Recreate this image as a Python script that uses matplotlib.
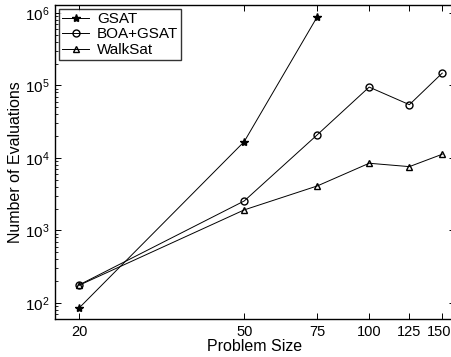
import matplotlib
matplotlib.use('Agg')
import matplotlib.pyplot as plt
import matplotlib.transforms as mtransforms
from matplotlib.ticker import LogLocator, NullLocator, FixedLocator, FixedFormatter

plt.rcParams['font.family'] = ['Liberation Sans', 'DejaVu Sans']
plt.rcParams['mathtext.fontset'] = 'custom'
plt.rcParams['mathtext.rm'] = 'Liberation Sans'

sizes = [20, 50, 75, 100, 125, 150]
gsat_sizes = [20, 50, 75]
gsat = [85, 16800, 890000]
boa_gsat = [177, 2550, 20900, 95000, 54300, 148000]
walksat = [175, 1920, 4110, 8450, 7590, 11250]

fig = plt.figure(figsize=(4.52, 3.57), dpi=100)
ax = fig.add_axes([55/452, 38/357, 400/452, 314/357])

ax.plot(gsat_sizes, gsat, color='black', linewidth=0.7, marker='*',
        markersize=6, markerfacecolor='black', label='GSAT')
ax.plot(sizes, boa_gsat, color='black', linewidth=0.7, marker='o',
        markersize=5, markerfacecolor='none', label='BOA+GSAT')
ax.plot(sizes, walksat, color='black', linewidth=0.7, marker='^',
        markersize=5, markerfacecolor='none', label='WalkSat')

ax.set_xscale('log')
ax.set_yscale('log')
ax.set_xlim(17.5, 161)
ax.set_ylim(60, 10**6.11)

ax.xaxis.set_major_locator(FixedLocator(sizes))
ax.xaxis.set_major_formatter(FixedFormatter([str(s) for s in sizes]))
ax.xaxis.set_minor_locator(NullLocator())
ax.yaxis.set_major_locator(LogLocator(base=10))
ax.yaxis.set_minor_locator(LogLocator(base=10, subs=range(2, 10)))

ax.tick_params(which='both', direction='in', top=True, right=True, labelsize=11)
ax.tick_params(axis='x', labelsize=10.5)
ax.tick_params(which='major', length=4, width=0.7, pad=4)
ax.tick_params(which='minor', length=2, width=0.6)
for s in ax.spines.values():
    s.set_linewidth(1.0)

# last x label sits at the image edge, nudge it left a little so it is not clipped
last = ax.get_xticklabels()[-1]
last.set_transform(last.get_transform() + mtransforms.ScaledTranslation(-3/100, 0, fig.dpi_scale_trans))

ax.set_xlabel('Problem Size', fontsize=11.5, labelpad=0)
ax.set_ylabel('Number of Evaluations', fontsize=11.5, labelpad=1)

leg = ax.legend(loc='upper left', fontsize=11, frameon=True, fancybox=False,
                edgecolor='black', borderaxespad=0.25, handlelength=1.8,
                labelspacing=0.1, borderpad=0.2, handletextpad=0.5)
leg.get_frame().set_linewidth(1.0)

fig.savefig('out.png', dpi=100)
